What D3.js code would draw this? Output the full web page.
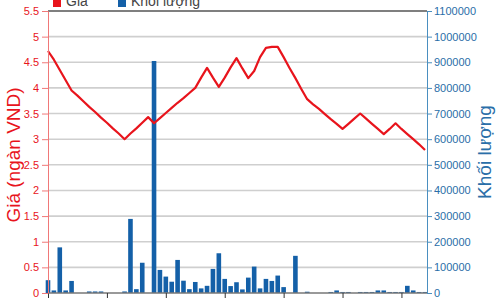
<!DOCTYPE html>
<html>
<head>
<meta charset="utf-8">
<script src="https://cdn.jsdelivr.net/npm/d3@7"></script>
<style>
  body { margin: 0; background: #fff; }
  svg { display: block; }
</style>
</head>
<body>
<div id="chart"></div>
<script>
// price (ngàn VND), one value per session
let price = [4.72, 4.55, 4.35, 4.15, 3.95, 3.85, 3.74, 3.63, 3.53, 3.42,
    3.32, 3.21, 3.11, 3.0, 3.11, 3.21, 3.32, 3.43, 3.31, 3.41,
    3.51, 3.61, 3.71, 3.8, 3.9, 4.0, 4.2, 4.39, 4.2, 4.02,
    4.2, 4.4, 4.58, 4.38, 4.19, 4.33, 4.6, 4.78, 4.8, 4.8,
    4.6, 4.39, 4.19, 3.98, 3.78, 3.68, 3.59, 3.49, 3.39, 3.3,
    3.2, 3.3, 3.4, 3.5, 3.4, 3.3, 3.2, 3.1, 3.2, 3.31,
    3.2, 3.1, 3.0, 2.9, 2.79];

// volume (Khối lượng)
let volume = [50000, 10000, 178000, 10000, 47000, 0, 0, 6000, 6000, 6000,
    0, 0, 0, 6000, 289000, 15000, 118000, 0, 905000, 90000,
    64000, 44000, 129000, 48000, 15000, 43000, 18000, 28000, 94000, 155000,
    55000, 27000, 42000, 14000, 60000, 103000, 18000, 55000, 47000, 68000,
    23000, 0, 145000, 0, 5000, 0, 0, 0, 4000, 10000,
    4000, 4000, 0, 4000, 4000, 4000, 10000, 10000, 4000, 4000,
    4000, 28000, 10000, 4000, 4000];

let priceTicks = [0, 0.5, 1, 1.5, 2, 2.5, 3, 3.5, 4, 4.5, 5, 5.5];
let volumeTicks = [0, 100000, 200000, 300000, 400000, 500000, 600000, 700000, 800000, 900000, 1000000, 1100000];
let xTicks = [0, 10, 20, 30, 40, 50, 60];
let legendItems = [{name: "Giá", color: "#e8141c"}, {name: "Khối lượng", color: "#1460a8"}];

const width = 501, height = 300;
const plotLeft = 48, plotRight = 427, plotTop = 11, plotBottom = 293;
const narrow = "'Liberation Sans Narrow', 'Arial Narrow', 'Liberation Sans', Arial, sans-serif";

const svg = d3.select("#chart").append("svg")
    .attr("width", width)
    .attr("height", height);

const x = d3.scaleLinear().domain([0, price.length - 1]).range([plotLeft, 425]);
const yPrice = d3.scaleLinear().domain([0, 5.5]).range([plotBottom, plotTop]);
const yVol = d3.scaleLinear().domain([0, 1100000]).range([plotBottom, plotTop]);

// grid lines
svg.append("g")
    .selectAll("line")
    .data(priceTicks.filter(d => d > 0 && d < 5.5))
    .enter()
    .append("line")
        .attr("x1", plotLeft).attr("x2", plotRight)
        .attr("y1", d => yPrice(d)).attr("y2", d => yPrice(d))
        .attr("stroke", "#cfcfcf")
        .attr("stroke-width", 1.6);

// top border
svg.append("line")
    .attr("x1", plotLeft).attr("x2", plotRight)
    .attr("y1", plotTop).attr("y2", plotTop)
    .attr("stroke", "#555").attr("stroke-width", 1.5);

// volume bars
svg.append("g")
    .selectAll("rect")
    .data(volume)
    .enter()
    .append("rect")
        .attr("x", (d, i) => x(i) - 2.3)
        .attr("width", 4.6)
        .attr("y", d => yVol(d))
        .attr("height", d => plotBottom - yVol(d))
        .attr("fill", "#1460a8");

// bottom axis
const xAxis = svg.append("g")
    .attr("transform", `translate(0,${plotBottom})`)
    .call(d3.axisBottom(x).tickValues(xTicks).tickSize(5).tickFormat(""));
xAxis.select(".domain").attr("stroke", "#777").attr("stroke-width", 1.5).attr("d", `M${plotLeft},0H${plotRight}`);
xAxis.selectAll(".tick line").attr("stroke", "#333");

// price line
svg.append("path")
    .datum(price)
    .attr("fill", "none")
    .attr("stroke", "#e8141c")
    .attr("stroke-width", 2.2)
    .attr("stroke-linejoin", "round")
    .attr("d", d3.line().x((d, i) => x(i)).y(d => yPrice(d)));

// left axis
const yl = svg.append("g")
    .attr("transform", `translate(${plotLeft},0)`)
    .call(d3.axisLeft(yPrice).tickValues(priceTicks).tickSize(6).tickSizeOuter(0).tickPadding(3).tickFormat(d3.format("")));
yl.select(".domain").attr("stroke", "#f07878");
yl.selectAll(".tick line").attr("stroke", "#f07878");
yl.selectAll(".tick text").attr("fill", "#e8141c").style("font", `11px ${narrow}`);

// right axis
const yr = svg.append("g")
    .attr("transform", `translate(${plotRight},0)`)
    .call(d3.axisRight(yVol).tickValues(volumeTicks).tickSize(5).tickSizeOuter(0).tickPadding(2).tickFormat(d3.format("d")));
yr.select(".domain").attr("stroke", "#4a8fc0");
yr.selectAll(".tick line").attr("stroke", "#4a8fc0");
yr.selectAll(".tick text").attr("fill", "#2a6ea8").style("font", `11px ${narrow}`);

// axis titles
svg.append("text")
    .attr("transform", "translate(20,155) rotate(-90)")
    .attr("text-anchor", "middle")
    .attr("fill", "#e8141c")
    .style("font", "19px 'Liberation Sans', Arial, sans-serif")
    .text("Giá (ngàn VND)");

svg.append("text")
    .attr("transform", "translate(491,152) rotate(-90)")
    .attr("text-anchor", "middle")
    .attr("fill", "#2a6ea8")
    .style("font", "19px 'Liberation Sans', Arial, sans-serif")
    .text("Khối lượng");

// legend (partly above the top edge, as in the original)
const legendX = [53, 118];
const legend = svg.append("g")
    .selectAll("g")
    .data(legendItems)
    .enter()
    .append("g")
        .attr("transform", (d, i) => `translate(${legendX[i]},0)`);
legend.append("rect")
    .attr("x", 0).attr("y", -2)
    .attr("width", 8).attr("height", 9)
    .attr("fill", d => d.color);
legend.append("text")
    .attr("x", 13).attr("y", 6)
    .attr("fill", "#444")
    .style("font", "14px 'Liberation Sans', Arial, sans-serif")
    .text(d => d.name);
</script>
</body>
</html>
